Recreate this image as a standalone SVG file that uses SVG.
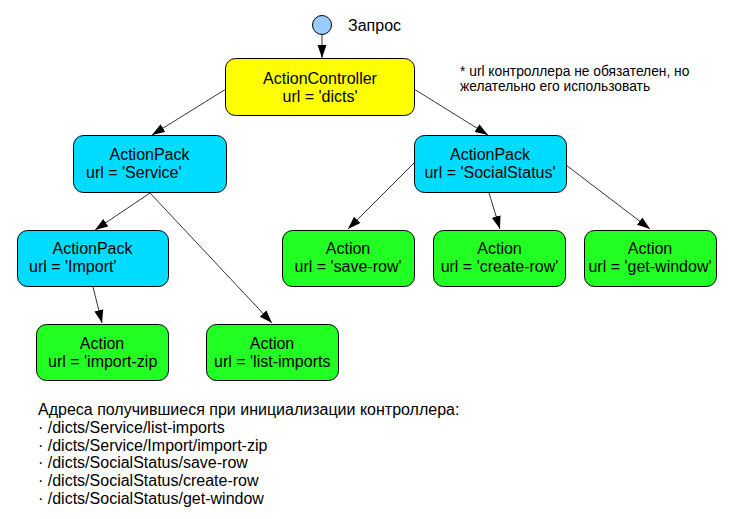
<svg xmlns="http://www.w3.org/2000/svg" width="737" height="519" viewBox="0 0 737 519">
<style>
text{font-family:"Liberation Sans",Arial,sans-serif;fill:#000}
.n{font-size:16px}
.c{text-anchor:middle}
.box{stroke:#000;stroke-width:1}
.ctrl{fill:#ffff00}
.pack{fill:#00dcff}
.act{fill:#22ff22}
.e{stroke:#000;stroke-width:0.8;fill:none;marker-end:url(#ah)}
.note{font-size:13.8px}
.list{font-size:16px}
</style>
<defs>
<marker id="ah" markerUnits="userSpaceOnUse" markerWidth="14" markerHeight="10" refX="13" refY="5" orient="auto">
<path d="M0,0.5 L13,5 L0,9.5 z" fill="#000"/>
</marker>
</defs>
<rect width="737" height="519" fill="#fff"/>
<g id="connectors">
<path class="e" d="M322,35 L322,58"/>
<path class="e" d="M226,89 L152,135"/>
<path class="e" d="M414,89 L488,135"/>
<path class="e" d="M150,193 L95,230"/>
<path class="e" d="M150,193 L272,323"/>
<path class="e" d="M93,287 L102,323"/>
<path class="e" d="M414,163 L348,229"/>
<path class="e" d="M489,193 L500,229"/>
<path class="e" d="M566,165 L650,229"/>
</g>
<g id="start">
<circle cx="322" cy="25" r="9.5" fill="#99ccff" stroke="#000" stroke-width="1"/>
<text class="n" x="348" y="31">Запрос</text>
</g>
<g id="controller">
<rect class="box ctrl" x="225.5" y="58.5" width="189" height="57" rx="10"/>
<text class="n c" x="320" y="84">ActionController</text>
<text class="n c" x="320" y="102">url = 'dicts'</text>
</g>
<g id="note">
<text class="note" x="460" y="76">* url контроллера не обязателен, но</text>
<text class="note" x="460" y="91">желательно его использовать</text>
</g>
<g id="pack-service">
<rect class="box pack" x="73.5" y="135.5" width="153" height="57" rx="10"/>
<text class="n c" x="149.5" y="160">ActionPack</text>
<text class="n" x="86" y="178">url = 'Service'</text>
</g>
<g id="pack-social">
<rect class="box pack" x="414.5" y="135.5" width="152" height="57" rx="10"/>
<text class="n c" x="490" y="160">ActionPack</text>
<text class="n c" x="490" y="178">url = 'SocialStatus'</text>
</g>
<g id="pack-import">
<rect class="box pack" x="17.5" y="230.5" width="151" height="56" rx="10"/>
<text class="n c" x="92.5" y="254">ActionPack</text>
<text class="n" x="29" y="272">url = 'Import'</text>
</g>
<g id="action-save-row">
<rect class="box act" x="282.5" y="230.5" width="132" height="56" rx="10"/>
<text class="n c" x="348" y="254">Action</text>
<text class="n c" x="348" y="272">url = 'save-row'</text>
</g>
<g id="action-create-row">
<rect class="box act" x="433.5" y="230.5" width="132" height="56" rx="10"/>
<text class="n c" x="499.5" y="254">Action</text>
<text class="n c" x="499.5" y="272">url = 'create-row'</text>
</g>
<g id="action-get-window">
<rect class="box act" x="584.5" y="230.5" width="132" height="56" rx="10"/>
<text class="n c" x="650" y="254">Action</text>
<text class="n c" x="650" y="272">url = 'get-window'</text>
</g>
<g id="action-import-zip">
<rect class="box act" x="36.5" y="324.5" width="132" height="56" rx="10"/>
<text class="n c" x="102" y="349">Action</text>
<text class="n" x="48" y="367">url = 'import-zip</text>
</g>
<g id="action-list-imports">
<rect class="box act" x="206.5" y="324.5" width="132" height="56" rx="10"/>
<text class="n c" x="272" y="349">Action</text>
<text class="n" x="214" y="367">url = 'list-imports</text>
</g>
<g id="addresses">
<text class="list" x="38" y="415">Адреса получившиеся при инициализации контроллера:</text>
<text class="list" x="38" y="433">· /dicts/Service/list-imports</text>
<text class="list" x="38" y="451">· /dicts/Service/Import/import-zip</text>
<text class="list" x="38" y="468">· /dicts/SocialStatus/save-row</text>
<text class="list" x="38" y="486">· /dicts/SocialStatus/create-row</text>
<text class="list" x="38" y="504">· /dicts/SocialStatus/get-window</text>
</g>
</svg>
